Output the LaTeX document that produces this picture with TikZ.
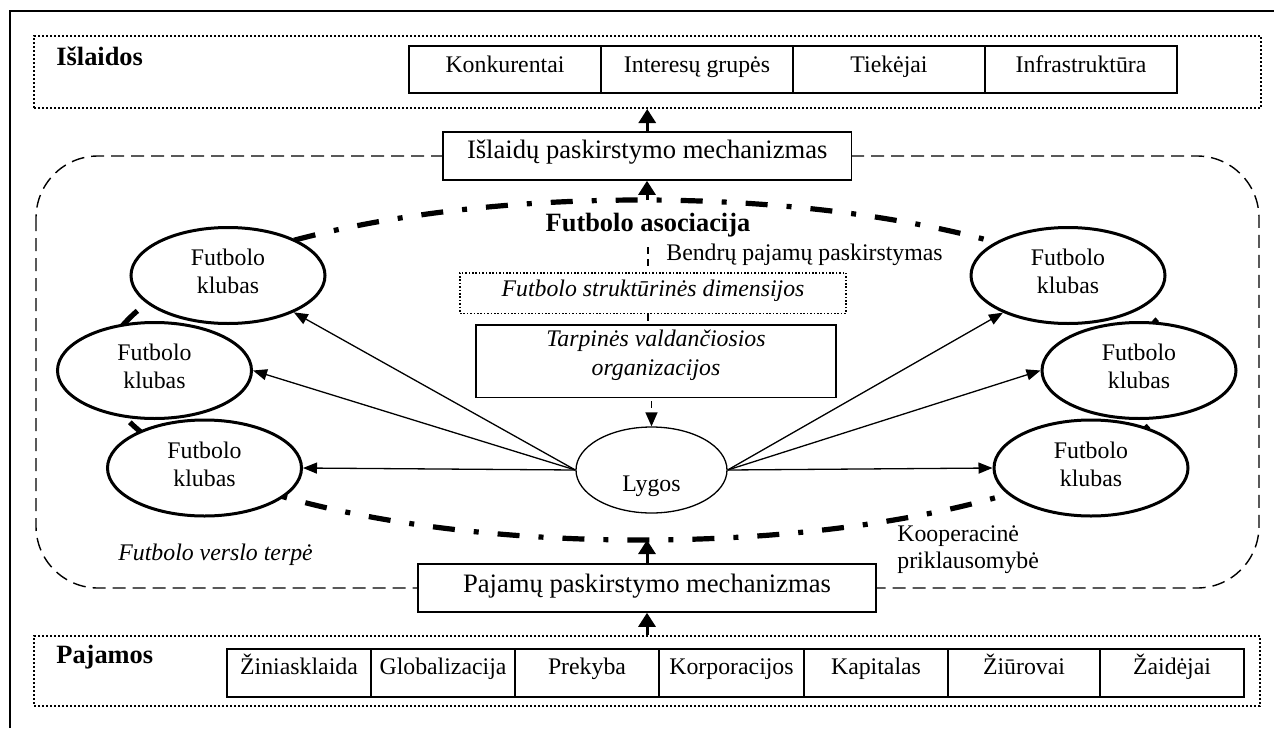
\documentclass[tikz,border=0pt]{standalone}
\usepackage{fontspec}
\setmainfont{Liberation Serif}
\usetikzlibrary{arrows.meta,shapes.geometric}
\begin{document}
\begin{tikzpicture}[x=0.5pt,y=-0.5pt,
  txt/.style={inner sep=0pt, font=\fontsize{11.9}{14}\selectfont},
  boldlab/.style={inner sep=0pt, font=\bfseries\fontsize{13.2}{15}\selectfont},
  box/.style={draw, line width=0.8pt, fill=white, inner sep=0pt, font=\fontsize{11.9}{14}\selectfont},
  ebox/.style={box, anchor=base, minimum width=96pt, text height=13pt, text depth=10.5pt},
  ibox/.style={box, anchor=base, text height=12.5pt, text depth=11.5pt},
  mech/.style={box, anchor=base, font=\fontsize{13.3}{16}\selectfont},
  dotbox/.style={draw, line width=1pt, dash pattern=on 1pt off 1pt, inner sep=0pt},
  dotthin/.style={draw, line width=0.8pt, dash pattern=on 0.8pt off 0.9pt, fill=white, inner sep=0pt},
  club/.style={ellipse, draw, line width=1.5pt, fill=white, inner sep=0pt, minimum width=97pt, minimum height=48pt, align=center, font=\fontsize{11.9}{13.85}\selectfont},
  region/.style={draw, line width=0.7pt, dash pattern=on 6.5pt off 3.5pt, rounded corners=31pt},
  coop/.style={line width=2.6pt, dash pattern=on 11pt off 9.5pt on 2.5pt off 9.5pt},
  thinarrow/.style={line width=0.65pt, -{Triangle[length=7pt,width=5.5pt]}},
  bigarrow/.style={line width=1.5pt, -{Triangle[length=7pt,width=8.5pt]}},
  thindash/.style={line width=0.7pt, dash pattern=on 3.5pt off 2.5pt}
]
\useasboundingbox (0,0) rectangle (1274,728);
% outer frame (cut off at right and bottom)
\draw[line width=1pt] (10,728) -- (10,11) -- (1274,11);
% business environment region
\draw[region] (36,156) rectangle (1259,588);
% cooperative dependence curve
\draw[coop] (641,370) ellipse [x radius=537, y radius=170];
\coordinate (ctop) at (647,200);
\coordinate (cbot) at (647,540);

% expenses
\node[dotbox, minimum width=613.5pt, minimum height=36pt] (isl) at (647.5,72) {};
\node[boldlab, anchor=base west] (isllab) at (56,65) {Išlaidos};
\node[ebox] (e1) at (505,72) {Konkurentai};
\node[ebox] (e2) at (697,72) {Interesų grupės};
\node[ebox] (e3) at (889,72) {Tiekėjai};
\node[ebox] (e4) at (1081,72) {Infrastruktūra};

% incomes
\node[dotbox, minimum width=613pt, minimum height=35pt] (paj) at (647,671) {};
\node[boldlab, anchor=base west] (pajlab) at (56,663) {Pajamos};
\node[ibox, minimum width=72pt] (p1) at (299,674) {Žiniasklaida};
\node[ibox, minimum width=72pt] (p2) at (443,674) {Globalizacija};
\node[ibox, minimum width=72pt] (p3) at (587,674) {Prekyba};
\node[ibox, minimum width=72.5pt] (p4) at (731.5,674) {Korporacijos};
\node[ibox, minimum width=72pt] (p5) at (876,674) {Kapitalas};
\node[ibox, minimum width=76pt] (p6) at (1024,674) {Žiūrovai};
\node[ibox, minimum width=72pt] (p7) at (1172,674) {Žaidėjai};

% mechanisms
\node[mech, minimum width=204.25pt, text height=13.15pt, text depth=10.85pt] (mechI) at (647.25,158.3) {Išlaidų paskirstymo mechanizmas};
\node[mech, minimum width=229pt, text height=14.35pt, text depth=9.65pt] (mechP) at (647,592.7) {Pajamų paskirstymo mechanizmas};

% centre
\node[boldlab, anchor=base] (asoc) at (648,231.7) {Futbolo asociacija};
\node[txt, anchor=base west] (bendr) at (666,260) {Bendrų pajamų paskirstymas};
\node[dotthin, anchor=base, minimum width=193pt, text height=12pt, text depth=8.3pt, font=\itshape\fontsize{11.9}{14}\selectfont] (strukt) at (653,296.7) {Futbolo struktūrinės dimensijos};
\node[box, minimum width=180.15pt, minimum height=36.15pt, align=center, font=\itshape\fontsize{11.9}{14.15}\selectfont] (tarp) at (656,361.15) {Tarpinės valdančiosios\\organizacijos\rule[-8.35pt]{0pt}{8.35pt}};
\node[ellipse, draw, line width=0.65pt, fill=white, inner sep=0pt, minimum width=75.5pt, minimum height=43pt, text height=21pt, text depth=0pt, font=\fontsize{11.9}{14}\selectfont] (lygos) at (651.5,470) {Lygos};

% clubs
\node[club] (c1) at (228,275.5) {Futbolo\\klubas\rule[-4pt]{0pt}{4pt}};
\node[club] (c2) at (154.5,370.5) {Futbolo\\klubas\rule[-4pt]{0pt}{4pt}};
\node[club] (c3) at (204.5,468) {Futbolo\\klubas\rule[-4pt]{0pt}{4pt}};
\node[club] (c4) at (1068,275.5) {Futbolo\\klubas\rule[-4pt]{0pt}{4pt}};
\node[club] (c5) at (1139,370.5) {Futbolo\\klubas\rule[-4pt]{0pt}{4pt}};
\node[club] (c6) at (1091,468) {Futbolo\\klubas\rule[-4pt]{0pt}{4pt}};

% labels
\node[txt, anchor=base west, font=\itshape\fontsize{11.9}{14}\selectfont] (terpe) at (118,560) {Futbolo verslo terpė};
\node[txt, anchor=north west, align=left, font=\fontsize{11.9}{13.15}\selectfont] (koop) at (897,525.7) {Kooperacinė\\priklausomybė};

% connectors
\draw[bigarrow] (mechI.north) -- (mechI.north |- isl.south);
\draw[bigarrow] (ctop) -- (ctop |- mechI.south);
\draw[bigarrow] (mechP.north) -- (cbot);
\draw[bigarrow] (mechP.south |- paj.north) -- (mechP.south);
\draw[thindash, shorten <=4.8pt, shorten >=2.85pt] (asoc.south) -- (asoc.south |- strukt.north);
\draw[thindash] (asoc.south |- strukt.south) -- (asoc.south |- tarp.north);
\draw[thindash, shorten <=1.5pt, -{Triangle[length=7pt,width=6pt]}] (lygos.north |- tarp.south) -- (lygos.north);
\draw[thinarrow] (lygos.west) -- (c1);
\draw[thinarrow] (lygos.west) -- (c2.east);
\draw[thinarrow] (lygos.west) -- (c3.east);
\draw[thinarrow] (lygos.east) -- (c4);
\draw[thinarrow] (lygos.east) -- (c5.west);
\draw[thinarrow] (lygos.east) -- (c6.west);
\end{tikzpicture}
\end{document}
